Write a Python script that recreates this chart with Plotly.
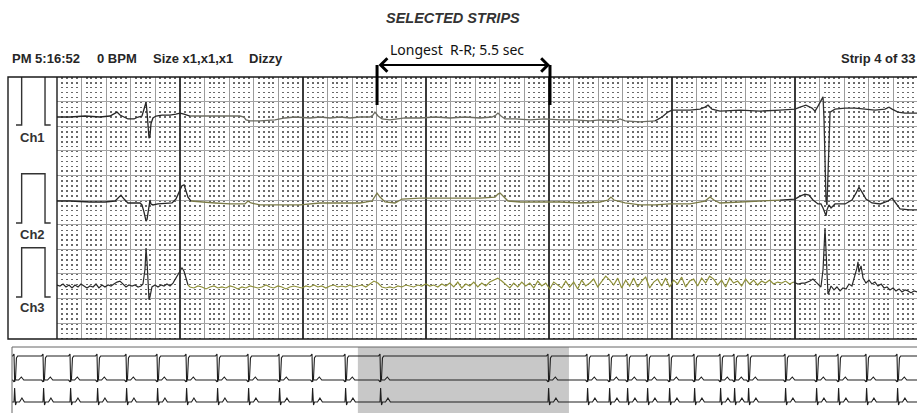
import numpy as np
import plotly.graph_objects as go

W, H = 917, 413

# ---------------- DATA ----------------
# Main 7-second strip: time (s) and amplitude (mV, relative to each channel baseline)
ch1_t = [0.000, 0.106, 0.228, 0.350, 0.431, 0.463, 0.488, 0.512, 0.545, 0.577,
         0.626, 0.659, 0.691, 0.707, 0.724, 0.732, 0.740, 0.748, 0.756, 0.764,
         0.780, 0.805, 0.854, 0.919, 0.967, 1.000, 1.033, 1.081, 1.163, 1.285,
         1.407, 1.488, 1.520, 1.537, 1.569, 1.650, 1.772, 1.854, 1.935, 2.057,
         2.138, 2.220, 2.301, 2.382, 2.463, 2.545, 2.569, 2.585, 2.610, 2.642,
         2.707, 2.772, 2.829, 2.951, 3.073, 3.195, 3.317, 3.439, 3.537, 3.569,
         3.585, 3.610, 3.642, 3.724, 3.846, 3.967, 4.089, 4.211, 4.333, 4.415,
         4.537, 4.577, 4.618, 4.740, 4.862, 4.919, 4.967, 5.000, 5.146, 5.228,
         5.268, 5.293, 5.325, 5.390, 5.553, 5.715, 5.878, 6.000, 6.041, 6.089,
         6.138, 6.163, 6.187, 6.211, 6.228, 6.236, 6.244, 6.252, 6.260, 6.268,
         6.276, 6.285, 6.325, 6.407, 6.488, 6.569, 6.650, 6.732, 6.764, 6.789,
         6.837, 6.894, 6.992]
ch1_mv = [0, 0, 0.02, 0, 0.02, 0.06, 0.10, 0.04, 0, -0.04,
          -0.04, 0, 0.02, 0.14, 0.30, 0.10, -0.22, -0.43, -0.39, -0.14,
          -0.02, 0.02, 0.04, 0.04, 0.06, 0.08, 0.06, 0.02, 0.02, 0.02,
          0.02, 0.02, 0, -0.06, -0.08, -0.08, -0.06, -0.02, 0, -0.02,
          0, -0.02, 0, -0.02, 0, 0, 0.04, 0.10, 0.02, -0.04,
          -0.06, -0.04, -0.02, -0.02, 0, -0.02, 0, -0.02, 0, 0.04,
          0.08, 0.02, -0.04, -0.04, -0.06, -0.04, -0.06, -0.06, -0.08, -0.06,
          -0.08, -0.04, -0.08, -0.10, -0.08, 0, 0.10, 0.14, 0.14, 0.16,
          0.20, 0.24, 0.16, 0.12, 0.14, 0.12, 0.14, 0.16, 0.20, 0.24,
          0.18, 0.12, 0.22, 0.33, 0.41, -0.06, -0.87, -1.69, -1.79, -1.08,
          -0.26, 0.10, 0.16, 0.18, 0.18, 0.16, 0.14, 0.16, 0.20, 0.16,
          0.10, 0.08, 0.08]

ch2_t = [0.000, 0.106, 0.268, 0.390, 0.472, 0.496, 0.520, 0.545, 0.577, 0.675,
         0.691, 0.707, 0.724, 0.732, 0.740, 0.748, 0.756, 0.764, 0.780, 0.821,
         0.886, 0.935, 0.967, 0.992, 1.016, 1.033, 1.049, 1.065, 1.089, 1.163,
         1.285, 1.407, 1.528, 1.553, 1.577, 1.650, 1.813, 1.976, 2.138, 2.301,
         2.463, 2.561, 2.585, 2.602, 2.626, 2.667, 2.748, 2.805, 2.951, 3.114,
         3.276, 3.439, 3.561, 3.585, 3.602, 3.626, 3.667, 3.764, 3.927, 4.089,
         4.252, 4.415, 4.480, 4.504, 4.528, 4.618, 4.740, 4.862, 4.984, 5.146,
         5.268, 5.309, 5.341, 5.390, 5.553, 5.715, 5.878, 6.000, 6.041, 6.081,
         6.114, 6.146, 6.187, 6.211, 6.228, 6.244, 6.252, 6.260, 6.276, 6.293,
         6.325, 6.407, 6.463, 6.496, 6.520, 6.545, 6.577, 6.626, 6.693, 6.756,
         6.789, 6.813, 6.854, 6.935, 6.992]
ch2_mv = [0.02, 0.02, 0, 0, 0.02, 0.08, 0.14, 0.06, -0.02, -0.02,
          -0.06, -0.20, -0.39, -0.35, -0.20, -0.06, 0.04, -0.04, -0.06, -0.04,
          -0.02, -0.02, 0.06, 0.20, 0.33, 0.35, 0.24, 0.10, 0.02, 0,
          -0.02, -0.04, -0.04, 0.02, -0.02, -0.06, -0.06, -0.06, -0.02, -0.02,
          -0.02, 0.02, 0.12, 0.18, 0.10, 0, -0.02, 0.06, 0.08, 0.08,
          0.08, 0.08, 0.10, 0.16, 0.18, 0.12, 0.02, 0, 0, 0,
          -0.02, 0, 0.04, 0.10, 0.04, -0.02, -0.06, -0.06, -0.04, -0.04,
          0.02, 0.10, 0.04, -0.02, 0, 0.02, 0.04, 0.06, 0.12, 0.16,
          0.14, 0.04, -0.04, -0.04, -0.12, -0.26, -0.28, -0.16, -0.06, -0.12,
          -0.04, -0.04, 0.04, 0.18, 0.30, 0.20, 0.06, -0.02, -0.04, 0.02,
          0.08, 0, -0.14, -0.16, -0.16]

ch3_left_t = [0.000, 0.024, 0.049, 0.073, 0.098, 0.122, 0.146, 0.171, 0.195, 0.220,
              0.244, 0.268, 0.293, 0.317, 0.341, 0.366, 0.390, 0.415, 0.439, 0.463,
              0.488, 0.512, 0.537, 0.561, 0.585, 0.610, 0.634, 0.659, 0.683, 0.699,
              0.715, 0.724, 0.732, 0.740, 0.748, 0.756, 0.772, 0.797, 0.821, 0.846,
              0.870, 0.894, 0.919, 0.943, 0.967, 0.992, 1.016, 1.033, 1.049, 1.065]
ch3_left_mv = [0.02, 0, 0.04, -0.02, 0.02, -0.04, 0.02, -0.02, 0.04, 0,
               -0.04, 0, -0.02, 0.04, -0.04, 0.02, -0.02, 0.02, 0, 0.04,
               0.08, 0.10, 0.04, -0.02, 0.02, 0, 0.02, -0.02, 0, 0.04,
               0.33, 0.77, 0.49, 0.02, -0.28, -0.22, -0.02, 0.02, -0.02, 0.02,
               0, 0.04, 0, 0.06, 0.16, 0.28, 0.37, 0.30, 0.14, 0.02]
# noisy section of Ch3, sampled every 0.0325 s from 1.081 s
ch3_noise_start = 1.081
ch3_noise_step = 0.0325
ch3_noise_mv = [-0.02, -0.04, 0.00, -0.02, -0.06, -0.02, 0.00, -0.04, -0.02, -0.04,
                0.00, -0.02, -0.06, -0.02, -0.04, 0.00, -0.02, -0.04, -0.02, 0.02,
                -0.02, -0.04, 0.00, -0.02, -0.06, -0.02, 0.00, -0.02, -0.04, 0.00,
                -0.02, 0.02, -0.02, 0.00, -0.04, 0.00, 0.02, -0.02, 0.00, -0.02,
                0.02, -0.02, 0.00, 0.02, -0.02, 0.04, 0.10, 0.06, -0.02, -0.04,
                -0.02, -0.04, 0.00, -0.02, 0.02, 0.00, -0.02, 0.02, 0.00, 0.04,
                0.00, 0.02, -0.02, 0.04, 0.00,
                0.06, -0.02, 0.08, -0.04, 0.04, 0.00, 0.08, -0.02, 0.06, 0.00,
                0.08, 0.12, 0.16, 0.10, 0.02, -0.04, 0.06, -0.02, 0.08, 0.00,
                0.06, -0.04, 0.10, 0.00, 0.06, -0.06, 0.08, 0.02, -0.04, 0.10,
                -0.02, 0.08, -0.06, 0.12, 0.00, 0.06,
                0.14, -0.02, 0.10, 0.20, 0.12, 0.02, 0.16, -0.04, 0.12, 0.00,
                0.16, -0.02, 0.10, 0.18, -0.04, 0.08, 0.14, 0.00, 0.16, -0.02,
                0.12, 0.04, 0.18, -0.02, 0.10, 0.14, 0.00, 0.16, 0.06, 0.20,
                0.14, 0.02, 0.12, -0.02, 0.16, 0.06, 0.10, 0.00, 0.14, 0.04,
                0.12, 0.02, 0.10, 0.06, 0.12, 0.04, 0.08, 0.06, 0.10, 0.04, 0.08]
ch3_right_t = [6.024, 6.057, 6.081, 6.122, 6.146, 6.171, 6.195, 6.211, 6.228, 6.236,
               6.244, 6.252, 6.260, 6.268, 6.276, 6.293, 6.317, 6.341, 6.366, 6.390,
               6.415, 6.439, 6.463, 6.488, 6.504, 6.512, 6.520, 6.537, 6.553, 6.577,
               6.602, 6.626, 6.650, 6.675, 6.701, 6.724, 6.748, 6.772, 6.797, 6.821,
               6.846, 6.870, 6.894, 6.919, 6.943, 6.967, 6.992]
ch3_right_mv = [0.04, 0.06, 0.06, 0.10, 0.14, 0.08, 0.02, -0.02, 0.33, 0.83,
                1.18, 0.73, 0.12, -0.16, -0.12, 0, -0.08, -0.02, -0.10, -0.04,
                -0.06, 0.04, 0, 0.20, 0.37, 0.49, 0.28, 0.41, 0.16, 0.06,
                0.12, 0.04, 0.08, 0, 0.04, -0.04, -0.02, -0.08, -0.04, -0.10,
                -0.06, -0.12, -0.08, -0.10, -0.14, -0.10, -0.12]

# calibration pulse: 1 mV, 0.2 s
cal_t = [0.065, 0.111, 0.111, 0.301, 0.301, 0.347]
cal_mv = [0, 0, 1, 1, 0, 0]

# Longest R-R marker bars (s on main strip)
rr_marks = [2.602, 4.008]

# Bottom overview strip: beat times (s) and the highlighted 7-s window
overview_beats = [0.066, 1.016, 1.902, 2.787, 3.738, 4.754, 5.705, 6.721, 7.738, 8.754,
                  9.836, 10.918, 12.066, 17.574, 18.852, 19.574, 20.164, 20.820, 21.541,
                  22.361, 23.213, 23.672, 24.131, 25.344, 26.361, 27.082, 28.000, 29.016]
window_start = 11.34
window_len = 6.92

header_items = ["PM 5:16:52", "0 BPM", "Size x1,x1,x1", "Dizzy"]
strip_label = "Strip 4 of 33"
title_text = "SELECTED STRIPS"
rr_text = "Longest  R-R; 5.5 sec"
channel_names = ["Ch1", "Ch2", "Ch3"]

# ---------------- LAYOUT CONSTANTS ----------------
def px(x):
    return x / W

def py(y):
    return 1 - y / H

PX_PER_S = 123.0
PX_PER_MM = 4.92
MM_PER_MV = 10.0
GRID_L, GRID_T, GRID_B = 57, 77, 339
main_xrange = [0, (W - GRID_L) / PX_PER_S]
main_yrange = [-(GRID_B - GRID_T) / PX_PER_MM, 0]
ch_base_mm = [-(117 - GRID_T) / PX_PER_MM, -(202 - GRID_T) / PX_PER_MM, -(286 - GRID_T) / PX_PER_MM]
cal_base_mm = [-(125 - GRID_T) / PX_PER_MM, -(223 - GRID_T) / PX_PER_MM, -(297 - GRID_T) / PX_PER_MM]

fig = go.Figure()

# empty trace so the grid subplot exists
fig.add_trace(go.Scatter(x=[None], y=[None], xaxis='x', yaxis='y', showlegend=False, hoverinfo='skip'))


def add_channel(t, v, base, segs, width=1.2):
    t = np.asarray(t, dtype=float)
    y = base + np.asarray(v, dtype=float) * MM_PER_MV
    starts = [s[0] for s in segs] + [t[-1] + 1]
    for k, (t0, col) in enumerate(segs):
        idx = np.where((t >= t0) & (t < starts[k + 1]))[0]
        if len(idx) == 0:
            continue
        if idx[0] > 0:
            idx = np.concatenate([[idx[0] - 1], idx])
        fig.add_trace(go.Scatter(x=t[idx], y=y[idx], mode='lines',
                                 line=dict(color=col, width=width),
                                 xaxis='x2', yaxis='y', hoverinfo='skip', showlegend=False))


ch3_noise_t = list(ch3_noise_start + ch3_noise_step * np.arange(len(ch3_noise_mv)))
ch3_t = ch3_left_t + ch3_noise_t + ch3_right_t
ch3_mv = ch3_left_mv + ch3_noise_mv + ch3_right_mv

add_channel(ch1_t, ch1_mv, ch_base_mm[0], [(0, '#262626'), (1.09, '#6c6c62'), (4.9, '#303030')], 1.3)
add_channel(ch2_t, ch2_mv, ch_base_mm[1], [(0, '#262626'), (1.09, '#7b7b48'), (5.95, '#2a2a2a')], 1.3)
add_channel(ch3_t, ch3_mv, ch_base_mm[2], [(0, '#2a2a2a'), (1.07, '#8e9038'), (6.0, '#2a2a2a')], 1.2)

# calibration pulses
for b in cal_base_mm:
    fig.add_trace(go.Scatter(x=cal_t, y=[b + m * MM_PER_MV for m in cal_mv], mode='lines',
                             line=dict(color='#333333', width=1.4), xaxis='x4', yaxis='y4',
                             hoverinfo='skip', showlegend=False))

# bottom overview strip
ov_end = (W - 12) / 30.5
row_base = [-9, -33, -55]
row_tmpl_t = [[-0.05, 0.0, 0.02, 0.05, 0.08, 0.12],
              [-0.05, 0.0, 0.03, 0.06, 0.15, 0.24, 0.32],
              [-0.04, 0.0, 0.02, 0.05, 0.08, 0.18, 0.26, 0.34]]
row_tmpl_a = [[0, 2, -26, -22, -2, 0],
              [0, -2, 3, 0, 0, 3, 0],
              [0, 0, 14, -3, 0, 0, 4, 0]]
for base, tt, aa in zip(row_base, row_tmpl_t, row_tmpl_a):
    xs, ys = [0.0], [base]
    for b in overview_beats:
        for dt, a in zip(tt, aa):
            xs.append(b + dt)
            ys.append(base + a)
    xs.append(ov_end)
    ys.append(base)
    order = np.argsort(xs, kind='stable')
    fig.add_trace(go.Scatter(x=np.asarray(xs)[order], y=np.asarray(ys)[order], mode='lines',
                             line=dict(color='#1e1e1e', width=1.1), xaxis='x3', yaxis='y3',
                             hoverinfo='skip', showlegend=False))

main_dom_x = [px(GRID_L), 1]
main_dom_y = [py(GRID_B), py(GRID_T)]
common = dict(zeroline=False, showticklabels=False, ticks='', fixedrange=True, showline=False)

fig.update_layout(
    width=W, height=H,
    margin=dict(l=0, r=0, t=0, b=0),
    paper_bgcolor='white', plot_bgcolor='rgba(0,0,0,0)',
    showlegend=False,
    xaxis=dict(domain=main_dom_x, range=main_xrange, anchor='y', showgrid=True,
               tick0=0, dtick=0.2, gridcolor='#9c9c9c', gridwidth=1,
               minor=dict(tick0=0, dtick=0.04, showgrid=True, gridcolor='#6a6a6a',
                          gridwidth=1.7, griddash='1.6px,3.32px'), **common),
    yaxis=dict(domain=main_dom_y, range=main_yrange, anchor='x', showgrid=True,
               tick0=0, dtick=5, gridcolor='#a3a3a3', gridwidth=1, **common),
    xaxis2=dict(domain=main_dom_x, range=main_xrange, anchor='y', overlaying='x',
                showgrid=True, tick0=0, dtick=1, gridcolor='#3a3a3a', gridwidth=1.5, **common),
    xaxis3=dict(domain=[px(12), 1], range=[0, ov_end], anchor='y3', showgrid=False, **common),
    yaxis3=dict(domain=[0, py(347)], range=[-66, 0], anchor='x3', showgrid=False, **common),
    xaxis4=dict(domain=[px(8), px(GRID_L)], range=[0, (GRID_L - 8) / PX_PER_S], anchor='y4',
                showgrid=False, **common),
    yaxis4=dict(domain=main_dom_y, range=main_yrange, anchor='x4', showgrid=False, **common),
)

shapes = [
    dict(type='rect', xref='x3', yref='paper', x0=window_start, x1=window_start + window_len,
         y0=0, y1=py(347), fillcolor='#c8c8c8', line=dict(width=0), layer='below'),
    dict(type='rect', xref='paper', yref='paper', x0=px(8), x1=1.01, y0=py(GRID_B), y1=py(GRID_T),
         line=dict(color='#1a1a1a', width=1.4), layer='above'),
    dict(type='line', xref='paper', yref='paper', x0=px(GRID_L), x1=px(GRID_L), y0=py(GRID_B), y1=py(GRID_T),
         line=dict(color='#1a1a1a', width=1.4), layer='above'),
    dict(type='rect', xref='paper', yref='paper', x0=px(12), x1=1.01, y0=-0.01, y1=py(347),
         line=dict(color='#666666', width=1), layer='above'),
]
for t in rr_marks:
    shapes.append(dict(type='line', xref='x2', yref='paper', x0=t, x1=t, y0=py(105), y1=py(65),
                       line=dict(color='black', width=3), layer='above'))
fig.update_layout(shapes=shapes)

ann = []
ann.append(dict(text='<b><i>' + title_text + '</i></b>', x=px(453), y=py(18), xref='paper', yref='paper',
                showarrow=False, xanchor='center', yanchor='middle',
                font=dict(family='Liberation Sans, Arial', size=14.5, color='#333333')))
for txt, x0 in zip(header_items, [10, 95, 151, 247]):
    ann.append(dict(text='<b>' + txt + '</b>', x=px(x0), y=py(58), xref='paper', yref='paper',
                    showarrow=False, xanchor='left', yanchor='middle',
                    font=dict(family='Liberation Sans, Arial', size=13, color='#262626')))
ann.append(dict(text='<b>' + strip_label + '</b>', x=1.0, y=py(58), xref='paper', yref='paper',
                showarrow=False, xanchor='right', yanchor='middle',
                font=dict(family='Liberation Sans, Arial', size=13, color='#262626')))
ann.append(dict(text=rr_text, x=px(457), y=py(49), xref='paper', yref='paper',
                showarrow=False, xanchor='center', yanchor='middle',
                font=dict(family='Noto Sans, DejaVu Sans', size=14, color='#111111')))
ann.append(dict(text='', x=rr_marks[1], y=py(65), xref='x2', yref='paper',
                ax=rr_marks[0], ay=0, axref='x2', ayref='pixel',
                showarrow=True, arrowside='end+start', arrowhead=4, startarrowhead=4,
                arrowwidth=2, arrowsize=1.3, startarrowsize=1.3, arrowcolor='black'))
for name, yc in zip(channel_names, [137, 234, 307]):
    ann.append(dict(text='<b>' + name + '</b>', x=px(32), y=py(yc), xref='paper', yref='paper',
                    showarrow=False, xanchor='center', yanchor='middle',
                    font=dict(family='Liberation Sans, Arial', size=13, color='#333333')))
fig.update_layout(annotations=ann)

fig.write_html("out.html", config={'displayModeBar': False},
               post_script="document.body.style.margin='0px';document.body.style.overflow='hidden';")
